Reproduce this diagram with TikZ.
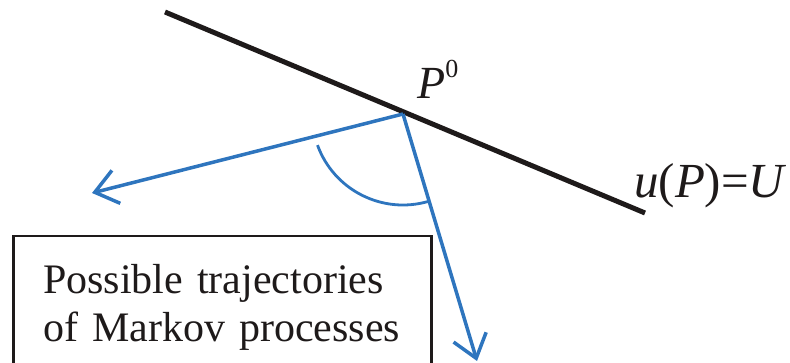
\documentclass[tikz,border=0pt]{standalone}
\usepackage{fontspec}
\setmainfont{Liberation Serif}
\usetikzlibrary{arrows.meta}
\definecolor{tblue}{RGB}{46,117,190}
\definecolor{tblack}{RGB}{30,26,26}
\begin{document}
\begin{tikzpicture}[x=1pt,y=-1pt,
  bline/.style={line width=5pt,tblack},
  traj/.style={line width=3.5pt,tblue,-{Straight Barb[length=22pt,width=34pt,line width=3.5pt]}},
  arcline/.style={line width=2.8pt,tblue},
  lbl/.style={inner sep=0pt,anchor=base west,text=tblack},
  boxnode/.style={draw=tblack,line width=2.5pt,anchor=north west,inner xsep=30pt,inner ysep=28pt,
    text width=358pt,align=left,text=tblack,font=\fontsize{42}{48}\selectfont}]
\useasboundingbox (0,0) rectangle (790,363);
\clip (0,0) rectangle (790,363);
\coordinate (L1) at (165,12);
\coordinate (L2) at (645,213);
\coordinate (P0) at (403,114);
\coordinate (T1) at (92,193);
\coordinate (T2) at (477,361);
\draw[bline] (L1) -- (L2);
\draw[traj] (P0) -- (T1);
\draw[traj] (P0) -- (T2);
\draw[arcline] (P0) ++(160:91) arc[start angle=160,end angle=74,radius=91];
\node[lbl,font=\fontsize{46}{46}\selectfont] (p0) at (417,99) {\itshape P\upshape\raisebox{21pt}{\fontsize{26}{26}\selectfont 0}};
\node[lbl,font=\fontsize{49}{49}\selectfont] (uP) at (634,198) {\textit{u}(\textit{P})=\textit{U}};
\node[boxnode] (box) at (12,235) {Possible trajectories\\of Markov processes};
\end{tikzpicture}
\end{document}
